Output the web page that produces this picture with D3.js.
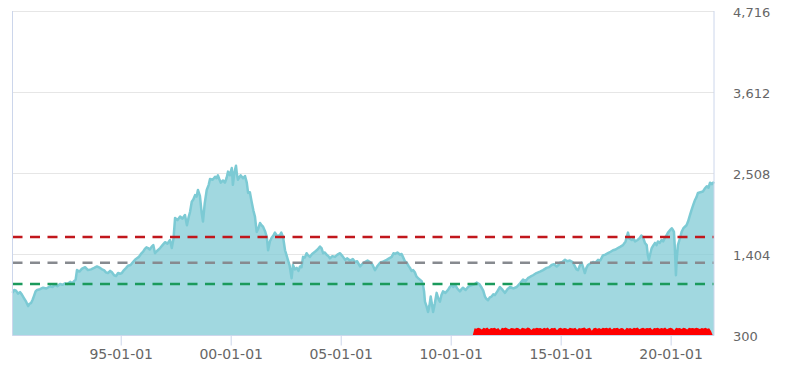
<!DOCTYPE html>
<html>
<head>
<meta charset="utf-8">
<script src="https://cdn.jsdelivr.net/npm/d3@7"></script>
<style>
  html, body { margin: 0; padding: 0; background: #fff; }
  svg { display: block; font-family: "DejaVu Sans", Verdana, sans-serif; }
</style>
</head>
<body>
<svg id="chart" width="786" height="365"></svg>
<script>
// ---- data (decimal years) ----
const dates = [
  1990.08, 1990.16, 1990.24, 1990.33, 1990.42, 1990.50, 1990.60, 1990.70, 1990.79, 1990.85,
  1990.92, 1991.00, 1991.06, 1991.13, 1991.20, 1991.33, 1991.47, 1991.62, 1991.79, 1991.90,
  1992.01, 1992.12, 1992.24, 1992.35, 1992.47, 1992.58, 1992.70, 1992.80, 1992.88, 1992.95,
  1993.01, 1993.12, 1993.24, 1993.38, 1993.51, 1993.65, 1993.79, 1993.92, 1994.06, 1994.15,
  1994.24, 1994.33, 1994.42, 1994.52, 1994.60, 1994.70, 1994.79, 1994.88, 1994.97, 1995.05,
  1995.15, 1995.25, 1995.33, 1995.45, 1995.56, 1995.65, 1995.74, 1995.83, 1995.92, 1996.02,
  1996.10, 1996.17, 1996.24, 1996.32, 1996.41, 1996.48, 1996.56, 1996.65, 1996.79, 1996.90,
  1997.01, 1997.12, 1997.24, 1997.32, 1997.40, 1997.47, 1997.58, 1997.70, 1997.80, 1997.92,
  1998.01, 1998.08, 1998.15, 1998.23, 1998.30, 1998.38, 1998.45, 1998.51, 1998.60, 1998.68,
  1998.74, 1998.82, 1998.91, 1999.00, 1999.06, 1999.18, 1999.29, 1999.36, 1999.42, 1999.48,
  1999.55, 1999.65, 1999.74, 1999.82, 1999.88, 1999.96, 2000.05, 2000.10, 2000.17, 2000.24,
  2000.28, 2000.33, 2000.45, 2000.56, 2000.65, 2000.73, 2000.79, 2000.87, 2000.95, 2001.03,
  2001.10, 2001.18, 2001.26, 2001.33, 2001.40, 2001.47, 2001.56, 2001.64, 2001.70, 2001.78,
  2001.86, 2001.94, 2002.01, 2002.12, 2002.24, 2002.30, 2002.38, 2002.47, 2002.53, 2002.60,
  2002.68, 2002.77, 2002.83, 2002.92, 2003.00, 2003.08, 2003.15, 2003.22, 2003.29, 2003.37,
  2003.45, 2003.52, 2003.60, 2003.70, 2003.83, 2003.95, 2004.06, 2004.13, 2004.20, 2004.28,
  2004.36, 2004.44, 2004.51, 2004.62, 2004.74, 2004.85, 2004.97, 2005.08, 2005.20, 2005.30,
  2005.42, 2005.55, 2005.65, 2005.75, 2005.88, 2006.00, 2006.10, 2006.22, 2006.33, 2006.45,
  2006.56, 2006.68, 2006.79, 2006.95, 2007.09, 2007.20, 2007.32, 2007.40, 2007.47, 2007.58,
  2007.70, 2007.77, 2007.83, 2007.92, 2008.00, 2008.08, 2008.15, 2008.22, 2008.29, 2008.37,
  2008.45, 2008.52, 2008.60, 2008.68, 2008.74, 2008.79, 2008.83, 2008.90, 2008.97, 2009.03,
  2009.09, 2009.15, 2009.20, 2009.28, 2009.36, 2009.44, 2009.51, 2009.58, 2009.65, 2009.76,
  2009.88, 2009.96, 2010.05, 2010.12, 2010.20, 2010.30, 2010.42, 2010.49, 2010.56, 2010.68,
  2010.79, 2010.90, 2011.01, 2011.10, 2011.18, 2011.30, 2011.41, 2011.48, 2011.56, 2011.62,
  2011.70, 2011.78, 2011.86, 2011.94, 2012.01, 2012.12, 2012.24, 2012.36, 2012.47, 2012.58,
  2012.70, 2012.85, 2013.00, 2013.15, 2013.29, 2013.40, 2013.51, 2013.62, 2013.74, 2013.90,
  2014.06, 2014.20, 2014.36, 2014.48, 2014.59, 2014.70, 2014.82, 2014.90, 2014.97, 2015.08,
  2015.20, 2015.30, 2015.42, 2015.54, 2015.65, 2015.72, 2015.79, 2015.87, 2015.95, 2016.03,
  2016.10, 2016.17, 2016.24, 2016.35, 2016.47, 2016.58, 2016.70, 2016.80, 2016.92, 2017.03,
  2017.15, 2017.27, 2017.38, 2017.50, 2017.60, 2017.72, 2017.83, 2017.95, 2018.06, 2018.12,
  2018.23, 2018.30, 2018.38, 2018.50, 2018.60, 2018.67, 2018.74, 2018.83, 2018.91, 2018.96,
  2019.01, 2019.08, 2019.14, 2019.22, 2019.29, 2019.36, 2019.42, 2019.50, 2019.59, 2019.66,
  2019.74, 2019.81, 2019.88, 2019.96, 2020.05, 2020.10, 2020.15, 2020.19, 2020.24, 2020.28,
  2020.33, 2020.42, 2020.50, 2020.58, 2020.65, 2020.72, 2020.79, 2020.87, 2020.95, 2021.03,
  2021.10, 2021.17, 2021.24, 2021.35, 2021.47, 2021.55, 2021.64, 2021.72, 2021.79, 2021.88,
  2021.97
];
const values = [
  880, 920, 910, 870, 890, 860, 810, 760, 700, 730,
  740, 790, 840, 900, 920, 930, 950, 940, 970, 960,
  990, 970, 1000, 990, 1010, 1000, 1030, 1010, 1040, 1060,
  1190, 1170, 1210, 1230, 1190, 1200, 1220, 1240, 1220, 1200,
  1190, 1160, 1150, 1180, 1160, 1120, 1110, 1150, 1140, 1150,
  1190, 1220, 1250, 1260, 1300, 1330, 1350, 1370, 1410, 1440,
  1480, 1500, 1490, 1470, 1510, 1530, 1420, 1450, 1490, 1530,
  1570, 1550, 1600, 1490, 1620, 1900, 1870, 1920, 1890, 1940,
  1800, 1900, 1980, 2120, 2150, 2210, 2190, 2280, 2200, 1970,
  1850, 2100, 2280, 2350, 2430, 2420, 2460, 2440, 2480, 2430,
  2380, 2410, 2380, 2450, 2530, 2480, 2580, 2350, 2520, 2610,
  2500, 2420, 2480, 2440, 2470, 2380, 2240, 2250, 2120, 2000,
  1920, 1710, 1760, 1830, 1800, 1780, 1720, 1640, 1460, 1580,
  1630, 1660, 1700, 1650, 1670, 1700, 1640, 1460, 1400, 1330,
  1250, 1080, 1260, 1200, 1220, 1180, 1240, 1230, 1370, 1360,
  1420, 1390, 1370, 1410, 1440, 1470, 1510, 1490, 1420, 1430,
  1400, 1380, 1350, 1380, 1370, 1400, 1420, 1380, 1330, 1350,
  1320, 1340, 1300, 1310, 1240, 1280, 1300, 1320, 1300, 1260,
  1190, 1250, 1290, 1310, 1330, 1350, 1370, 1420, 1410, 1430,
  1400, 1410, 1370, 1310, 1290, 1250, 1220, 1180, 1190, 1160,
  1100, 1080, 1060, 1040, 990, 900, 760, 700, 620, 700,
  830, 720, 620, 740, 880, 800, 760, 850, 900, 880,
  920, 960, 990, 960, 990, 940, 900, 930, 950, 920,
  960, 980, 990, 1000, 1020, 1000, 950, 910, 830, 800,
  780, 820, 830, 860, 850, 900, 960, 920, 880, 930,
  960, 940, 960, 1010, 1060, 1040, 1080, 1100, 1120, 1150,
  1170, 1190, 1220, 1230, 1260, 1270, 1240, 1260, 1290, 1300,
  1330, 1310, 1320, 1300, 1240, 1200, 1190, 1250, 1290, 1220,
  1150, 1220, 1260, 1280, 1300, 1290, 1330, 1320, 1390, 1400,
  1420, 1440, 1460, 1470, 1490, 1510, 1530, 1580, 1700, 1620,
  1600, 1620, 1580, 1600, 1630, 1660, 1640, 1560, 1530, 1400,
  1330, 1420, 1490, 1530, 1560, 1530, 1580, 1560, 1600, 1580,
  1630, 1660, 1700, 1730, 1760, 1740, 1710, 1500, 1120, 1350,
  1530, 1620, 1710, 1760, 1780, 1800, 1850, 1930, 2010, 2080,
  2140, 2180, 2240, 2250, 2260, 2300, 2330, 2310, 2380, 2360,
  2390
];

// monthly red band from 2011-01
const redStartYear = 2011;
const redValues = [
  300, 400, 392, 405, 398, 380, 404, 396, 408, 385, 402, 399,
  407, 390, 401, 372, 404, 398, 409, 394, 386, 403, 400, 392,
  405, 397, 380, 406, 399, 391, 408, 402, 376, 400, 395, 407,
  398, 403, 388, 405, 396, 409, 383, 401, 397, 404, 371, 399,
  406, 392, 402, 398, 385, 407, 400, 394, 405, 378, 403, 396,
  401, 408, 389, 397, 404, 366, 400, 406, 393, 402, 387, 405,
  398, 404, 394, 408, 382, 401, 397, 405, 390, 403, 399, 376,
  406, 395, 402, 388, 404, 400, 409, 384, 398, 405, 392, 401,
  397, 407, 379, 403, 399, 406, 391, 402, 395, 408, 385, 400,
  404, 396, 372, 405, 399, 402, 390, 407, 398, 383, 404, 397,
  401, 394, 406, 399, 387, 403, 396, 405, 392, 400, 360, 300
];

// reference lines
const refLevels = [1640, 1290, 1000];
const refColors = ["#c1171c", "#878a8f", "#1b9a5c"];

// axes
const yTicks = [300, 1404, 2508, 3612, 4716];
const xTickYears = [1995, 2000, 2005, 2010, 2015, 2020];

(function () {
  function toDate(yv) {
    const yr = Math.floor(yv);
    const s = new Date(yr, 0, 1), e = new Date(yr + 1, 0, 1);
    return new Date(+s + (yv - yr) * (e - s));
  }

  const n = Math.min(dates.length, values.length);
  const mainData = dates.slice(0, n).map((d, i) => ({ date: toDate(d), value: values[i] }));
  const redData = redValues.map((v, i) => ({ date: d3.timeMonth.offset(new Date(redStartYear, 0, 1), i), value: v }));

  const pLeft = 12.5, pRight = 714, pTop = 11, pBottom = 335.5;

  const svg = d3.select("#chart");

  const x = d3.scaleTime()
    .domain(d3.extent(mainData, d => d.date))
    .range([pLeft, pRight]);
  const y = d3.scaleLinear()
    .domain([300, 4716])
    .range([pBottom, pTop]);

  // gridlines
  svg.append("g").selectAll("line")
    .data(yTicks.slice(1))
    .join("line")
    .attr("x1", pLeft).attr("x2", pRight)
    .attr("y1", d => Math.round(y(d)) + 0.5).attr("y2", d => Math.round(y(d)) + 0.5)
    .attr("stroke", "#e6e6e6").attr("stroke-width", 1);

  // main area
  const area = d3.area()
    .x(d => x(d.date))
    .y0(y(300))
    .y1(d => y(d.value));
  const line = d3.line()
    .x(d => x(d.date))
    .y(d => y(d.value));

  svg.append("path")
    .datum(mainData)
    .attr("d", area)
    .attr("fill", "#82cbd6")
    .attr("fill-opacity", 0.75);
  svg.append("path")
    .datum(mainData)
    .attr("d", line)
    .attr("fill", "none")
    .attr("stroke", "#7ccad4")
    .attr("stroke-width", 2.5)
    .attr("stroke-linejoin", "round");

  // red band
  svg.append("path")
    .datum(redData)
    .attr("d", area)
    .attr("fill", "#ff0000");

  // reference dashed lines
  svg.append("g").selectAll("line")
    .data(refLevels)
    .join("line")
    .attr("x1", pLeft).attr("x2", pRight)
    .attr("y1", d => y(d)).attr("y2", d => y(d))
    .attr("stroke", (d, i) => refColors[i])
    .attr("stroke-width", 2.5)
    .attr("stroke-dasharray", "10,7.5");

  // axis frame lines
  const axisColor = "#ccd6eb";
  svg.append("line").attr("x1", pLeft).attr("x2", pLeft).attr("y1", pTop).attr("y2", pBottom)
    .attr("stroke", axisColor).attr("stroke-width", 1);
  svg.append("line").attr("x1", pRight).attr("x2", pRight).attr("y1", pTop).attr("y2", pBottom)
    .attr("stroke", axisColor).attr("stroke-width", 1);

  // bottom axis
  const xAxis = d3.axisBottom(x)
    .tickValues(xTickYears.map(yy => new Date(yy, 0, 1)))
    .tickFormat(d3.timeFormat("%y-%m-%d"))
    .tickSize(10)
    .tickSizeOuter(0);
  const gx = svg.append("g")
    .attr("transform", `translate(0,${pBottom})`)
    .call(xAxis);
  gx.select(".domain").attr("stroke", axisColor).attr("d", `M${pLeft},0H${pRight}`);
  gx.selectAll(".tick line").attr("stroke", axisColor);
  gx.selectAll(".tick text")
    .attr("y", 23.5).attr("dy", 0)
    .attr("fill", "#666")
    .style("font-size", "14px")
    .style("font-family", "'DejaVu Sans', Verdana, sans-serif");

  // right axis labels
  const yAxis = d3.axisRight(y)
    .tickValues(yTicks)
    .tickFormat(d3.format(","))
    .tickSize(0);
  const gy = svg.append("g")
    .attr("transform", `translate(${pRight},0)`)
    .call(yAxis);
  gy.select(".domain").remove();
  gy.selectAll(".tick text")
    .attr("x", 19).attr("y", 5).attr("dy", 0)
    .attr("text-anchor", "start")
    .attr("fill", "#666")
    .style("font-size", "13px")
    .style("font-family", "'DejaVu Sans', Verdana, sans-serif");
})();
</script>
</body>
</html>
